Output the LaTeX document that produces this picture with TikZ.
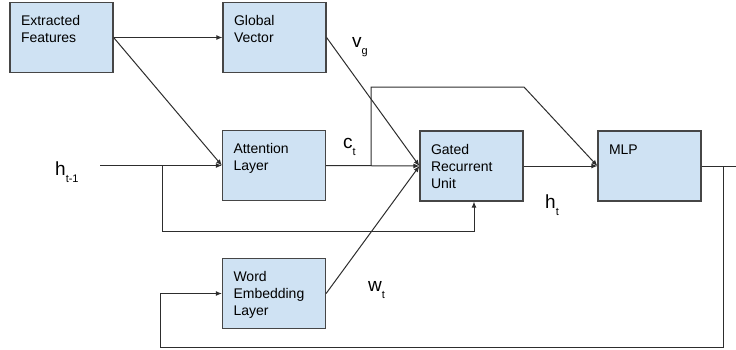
\documentclass[tikz,border=0pt]{standalone}
\usepackage{fontspec}
\setmainfont{Liberation Sans}
\usetikzlibrary{arrows.meta}

\definecolor{boxfill}{RGB}{207,226,243}
\definecolor{boxline}{RGB}{70,70,70}
\definecolor{wire}{RGB}{45,45,45}

\newcommand{\lowsub}[1]{\raisebox{-7pt}{\fontsize{11}{11}\selectfont #1}}

\tikzset{
  block/.style={draw=boxline,fill=boxfill,line width=1.2pt,minimum width=103pt,minimum height=70pt,
    text width=81pt,inner xsep=11pt,inner ysep=0pt,text height=23pt,text depth=47pt,align=left,
    font=\fontsize{14}{17}\selectfont},
  sig/.style={inner sep=0pt,anchor=base west,font=\fontsize{19}{22}\selectfont},
  wire/.style={draw=wire,line width=1pt},
  arr/.style={wire,-{Latex[length=6pt,width=5pt]}}
}

\begin{document}
\begin{tikzpicture}[x=1pt,y=-1pt]
\useasboundingbox (0,0) rectangle (736,349);
\node[block] (EF) at (61.5,37.5) {Extracted\\Features};
\node[block] (GV) at (274.5,37.5) {Global\\Vector};
\node[block] (AL) at (274,165.5) {Attention\\Layer};
\node[block] (WE) at (274,293.5) {Word\\Embedding\\Layer};
\node[block] (GRU) at (471.5,166) {Gated\\Recurrent\\Unit};
\node[block] (MLP) at (649.5,166) {MLP};
\node[sig] (hprev) at (55,175) {h\lowsub{t-1}};
\node[sig] (vg) at (352,47) {v\lowsub{g}};
\node[sig] (ct) at (343,148) {c\lowsub{t}};
\node[sig] (ht) at (545,208) {h\lowsub{t}};
\node[sig] (wt) at (368,291) {w\lowsub{t}};
\coordinate (hin) at (100,165.5);
\coordinate (hsplit) at (162,165.5);
\coordinate (csplit) at (371,165.5);
\coordinate (mlpout) at (736,166);
\coordinate (osplit) at (723,166);
\draw[arr] (EF.east) -- (GV.west);
\draw[arr] (EF.east) -- (AL.west);
\draw[arr] (hin) -- (AL.west);
\draw[arr] (hsplit) -- ++(0,65.5) -| ([xshift=2.5pt]GRU.south);
\draw[arr] (AL.east) -- (GRU.west);
\draw[arr] (GV.east) -- (GRU.west);
\draw[arr] (WE.east) -- (GRU.west);
\draw[arr] (csplit) -- ++(0,-78.5) -- ++(153,0) -- (MLP.west);
\draw[arr] (GRU.east) -- (MLP.west);
\draw[wire] (MLP.east) -- (mlpout);
\draw[arr] (osplit) -- ++(0,181) -- ++(-563,0) |- (WE.west);
\end{tikzpicture}
\end{document}
